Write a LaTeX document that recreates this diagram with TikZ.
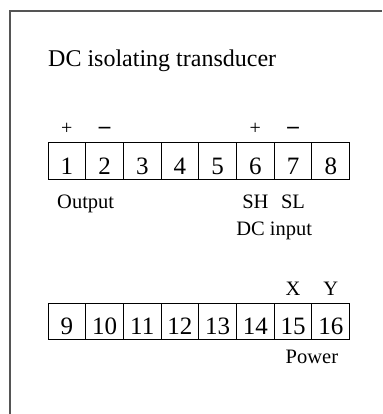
\documentclass[tikz,border=0pt]{standalone}
\usepackage{fontspec}
\setmainfont{Liberation Serif}
\usepackage{tikz}
\definecolor{framegray}{RGB}{85,85,85}

\begin{document}
\begin{tikzpicture}[x=1pt,y=1pt,yscale=-1,xscale=1,
  cell/.style={draw=black,line width=1pt,minimum width=37.7pt,minimum height=36pt,
    inner sep=0pt,outer sep=0pt,text height=27pt,text depth=0pt,
    font=\fontsize{25}{28}\selectfont},
  sign/.style={anchor=base,inner sep=0pt,font=\fontsize{20}{22}\selectfont},
  dashsign/.style={sign,font=\fontsize{23}{25}\selectfont\bfseries},
  lbl/.style={anchor=base,inner sep=0pt,font=\fontsize{20.5}{23}\selectfont}]
\useasboundingbox (0,0) rectangle (382,414);

%Shape: Frame (left and top edge only)
\draw[framegray,line width=1.5pt] (10,414) -- (10,11) -- (382,11);

% Text Node: title
\node[anchor=base west,inner sep=0pt,font=\fontsize{24}{28}\selectfont] (title) at (48,67) {DC isolating transducer};

%Shape: terminal strips
\foreach \i in {1,...,8}
  \node[cell] (t\i) at ({48+37.7*(\i-0.5)},161) {\i};
\foreach \i in {9,...,16}
  \node[cell] (t\i) at ({48+37.7*(\i-8.5)},321) {\i};

% Text Node: polarity marks
\node[sign] (plusout) at (t1 |- 0,135) {+};
\node[dashsign] (minusout) at (t2 |- 0,134) {–};
\node[sign] (plusin) at (t6 |- 0,135) {+};
\node[dashsign] (minusin) at (t7 |- 0,134) {–};

% Text Node: terminal labels
\node[lbl] (output) at (t1.south east |- 0,208) {Output};
\node[lbl] (sh) at (t6 |- 0,208) {SH};
\node[lbl] (sl) at (t7 |- 0,208) {SL};
\node[lbl] (dcin) at (t6.south east |- 0,235) {DC input};
\node[lbl] (x) at (t15 |- 0,295) {X};
\node[lbl] (y) at (t16 |- 0,295) {Y};
\node[lbl] (power) at (t15.south east |- 0,363) {Power};

\end{tikzpicture}
\end{document}
